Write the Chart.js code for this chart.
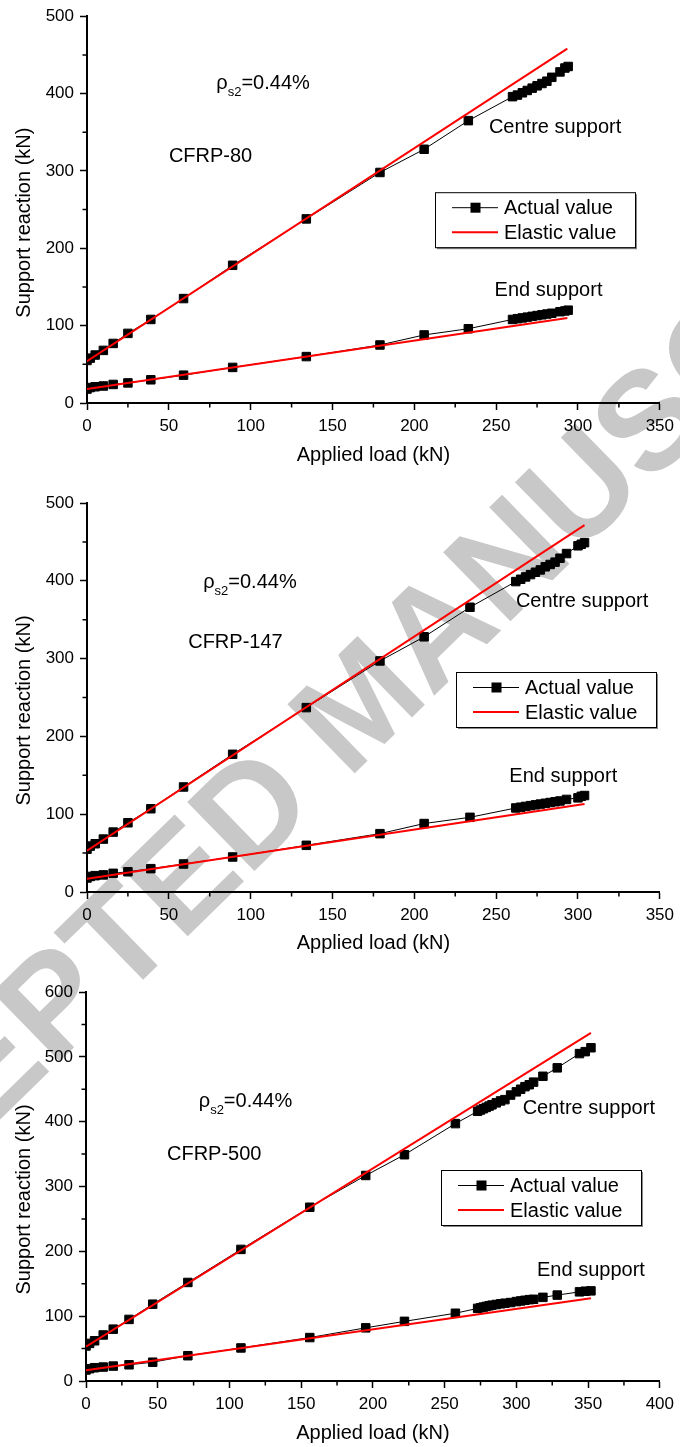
<!DOCTYPE html>
<html>
<head>
<meta charset="utf-8">
<script src="https://cdn.jsdelivr.net/npm/chart.js@4.4.1/dist/chart.umd.min.js"></script>
<style>
html,body{margin:0;padding:0;background:#fff;}
body{width:680px;height:1447px;position:relative;overflow:hidden;}
#wm{position:absolute;left:359px;top:702px;transform:translate(-50%,-50%) rotate(-44.3deg);font:bold 140px "Liberation Sans",Arial,sans-serif;line-height:1;color:#c8c8c8;white-space:nowrap;}
canvas{position:absolute;left:0;}
</style>
</head>
<body>
<div id="wm">ACCEPTED MANUSCRIPT</div>
<canvas id="c1" width="680" height="480" style="top:0px"></canvas>
<canvas id="c2" width="680" height="480" style="top:480px"></canvas>
<canvas id="c3" width="680" height="487" style="top:960px"></canvas>
<script>
// ---------- DATA ----------
// CFRP-80
const c80Load   = [0, 2, 5, 10, 16, 25, 39, 59, 89, 134, 179, 206, 233, 260, 263, 266, 269, 272, 275, 278, 281, 284, 289, 292, 294];
const c80Centre = [55, 58, 62, 68, 77, 90, 108, 135, 178, 238, 298, 328, 365, 396, 398, 401, 404, 407, 410, 413, 416, 421, 428, 433, 435];
const c80End    = [18, 20, 21, 22, 24, 26, 30, 36, 46, 60, 75, 88, 96, 108, 109, 110, 111, 112, 113, 114, 115, 116, 118, 119, 120];
const c80ElasticLoad   = [0, 293.5];
const c80ElasticCentre = [54, 458];
const c80ElasticEnd    = [18, 110];

// CFRP-147
const c147Load   = [0, 2, 5, 10, 16, 25, 39, 59, 89, 134, 179, 206, 234, 262, 265, 268, 271, 274, 277, 280, 283, 286, 289, 293, 300, 302, 304];
const c147Centre = [55, 59, 62, 68, 77, 89, 107, 135, 177, 237, 297, 328, 366, 399, 402, 405, 408, 411, 414, 418, 421, 424, 429, 435, 445, 447, 449];
const c147End    = [18, 20, 21, 22, 24, 26, 30, 36, 45, 60, 75, 88, 96, 108, 109, 110, 111, 112, 113, 114, 115, 116, 117, 119, 121, 123, 124];
const c147ElasticLoad   = [0, 304];
const c147ElasticCentre = [53, 471.5];
const c147ElasticEnd    = [17, 113];

// CFRP-500
const c500Load   = [0, 2.5, 6, 12, 19, 30, 46.5, 71, 108, 156, 195, 222, 257.5, 273, 275, 277, 279, 281, 283, 286, 289, 292, 296, 300, 303, 306, 309, 312, 318.5, 328.5, 344, 348, 352];
const c500Centre = [54, 58, 62, 71, 80, 95, 118.5, 152, 203, 268, 317, 349, 397, 416, 418, 420, 422, 424, 426, 429, 432, 434, 441, 446, 450, 454, 457, 461, 470, 483, 505, 508, 514];
const c500End    = [17, 19, 20.5, 21.5, 23, 25, 29, 39, 51, 67, 82, 92, 104.5, 112, 113, 114, 115, 116, 117, 118, 119, 120, 121, 122.5, 123.5, 124.5, 125.5, 126, 129, 132.5, 137.5, 138.5, 139];
const c500ElasticLoad   = [0, 352];
const c500ElasticCentre = [53, 537];
const c500ElasticEnd    = [16.5, 127.6];

const xTitle = 'Applied load (kN)';
const yTitle = 'Support reaction (kN)';
const legendLabels = ['Actual value', 'Elastic value'];
const rhoText = ['\u03c1', 's2', '=0.44%'];
const centreLabel = 'Centre support';
const endLabel = 'End support';

// ---------- RENDER ----------
const FONT = "'Liberation Sans', Arial, Helvetica, sans-serif";
Chart.defaults.font.family = FONT;
Chart.defaults.color = '#000';

function pts(xs, ys){ return xs.map((x,i)=>({x:x, y:ys[i]})); }

const annotPlugin = {
  id:'annot',
  afterDraw(chart){
    const o = chart.options.plugins.annot;
    const ctx = chart.ctx, xs = chart.scales.x, ys = chart.scales.y, ca = chart.chartArea;
    ctx.save();
    // minor ticks (values from the scales)
    ctx.strokeStyle = '#000'; ctx.lineWidth = 1.5;
    ctx.beginPath();
    xs.ticks.forEach(t=>{ if (t.value % 50 !== 0){ const px = xs.getPixelForValue(t.value); ctx.moveTo(px, ca.bottom); ctx.lineTo(px, ca.bottom + 4.5); } });
    ys.ticks.forEach(t=>{ if (t.value % 100 !== 0){ const py = ys.getPixelForValue(t.value); ctx.moveTo(ca.left, py); ctx.lineTo(ca.left - 4.5, py); } });
    ctx.stroke();

    ctx.fillStyle = '#000';
    // y axis title
    ctx.save();
    ctx.translate(24, (ca.top+ca.bottom)/2 + 13);
    ctx.rotate(-Math.PI/2);
    ctx.font = '20px ' + FONT;
    ctx.textAlign = 'center'; ctx.textBaseline = 'middle';
    ctx.fillText(yTitle, 0, 0);
    ctx.restore();
    // rho label
    let rx = xs.getPixelForValue(o.rho[0]), ry = ys.getPixelForValue(o.rho[1]);
    ctx.textAlign = 'left'; ctx.textBaseline = 'alphabetic';
    ctx.font = '20px ' + FONT;
    ctx.fillText(rhoText[0], rx, ry);
    rx += ctx.measureText(rhoText[0]).width;
    ctx.font = '13px ' + FONT;
    ctx.fillText(rhoText[1], rx, ry + 7);
    rx += ctx.measureText(rhoText[1]).width;
    ctx.font = '20px ' + FONT;
    ctx.fillText(rhoText[2], rx, ry);
    // centred labels
    ctx.textAlign = 'center'; ctx.textBaseline = 'middle';
    ctx.font = '20px ' + FONT;
    [[o.name, o.nameAt],[centreLabel, o.centreAt],[endLabel, o.endAt]].forEach(([t,p])=>{
      ctx.fillText(t, xs.getPixelForValue(p[0]), ys.getPixelForValue(p[1]));
    });
    // legend
    const bx = ca.left + o.legend[0], by = ca.top + o.legend[1], bw = 200, bh = 55;
    ctx.fillStyle = '#888';
    ctx.fillRect(bx+2, by+bh, bw, 2);
    ctx.fillRect(bx+bw, by+2, 2, bh);
    ctx.strokeStyle = '#000'; ctx.lineWidth = 1;
    ctx.strokeRect(bx+0.5, by+0.5, bw, bh);
    const y1 = by + 15, y2 = by + 40;
    ctx.beginPath(); ctx.moveTo(bx+17, y1+0.5); ctx.lineTo(bx+63, y1+0.5); ctx.stroke();
    ctx.fillStyle = '#000'; ctx.fillRect(bx+35.5, y1-4.5, 10, 10);
    ctx.strokeStyle = '#ff0000'; ctx.lineWidth = 2;
    ctx.beginPath(); ctx.moveTo(bx+17, y2); ctx.lineTo(bx+63, y2); ctx.stroke();
    ctx.fillStyle = '#000';
    ctx.textAlign = 'left'; ctx.textBaseline = 'middle';
    ctx.fillText(legendLabels[0], bx+69, y1+1);
    ctx.fillText(legendLabels[1], bx+69, y2+1);
    ctx.restore();
  }
};

function makeChart(id, c){
  const majorX = v => v % 50 === 0;
  const majorY = v => v % 100 === 0;
  new Chart(document.getElementById(id), {
    type:'line',
    data:{datasets:[
      {label:legendLabels[1], data:pts(c.eLoad, c.eCentre), borderColor:'#ff0000', borderWidth:2, pointRadius:0, order:0},
      {label:legendLabels[1], data:pts(c.eLoad, c.eEnd), borderColor:'#ff0000', borderWidth:2, pointRadius:0, order:0},
      {label:legendLabels[0], data:pts(c.load, c.centre), borderColor:'#000', borderWidth:1, pointStyle:'rect', pointRadius:6, pointBorderWidth:1, pointBackgroundColor:'#000', pointBorderColor:'#000', order:1},
      {label:legendLabels[0], data:pts(c.load, c.end), borderColor:'#000', borderWidth:1, pointStyle:'rect', pointRadius:6, pointBorderWidth:1, pointBackgroundColor:'#000', pointBorderColor:'#000', order:1}
    ]},
    options:{
      responsive:false, animation:false, devicePixelRatio:1,
      layout:{padding:{left:0, top:c.top, right:18, bottom:0}},
      plugins:{legend:{display:false}, tooltip:{enabled:false}, annot:c.annot},
      elements:{line:{tension:0}},
      scales:{
        x:{type:'linear', min:0, max:c.xMax,
           afterFit:s=>{ s.height = c.xH; },
           grid:{drawOnChartArea:false, drawTicks:true, tickLength:7, tickWidth:1.5,
                 tickColor:ctx=> (ctx.tick && majorX(ctx.tick.value)) ? '#000' : 'rgba(0,0,0,0)'},
           border:{display:true, color:'#000', width:2},
           ticks:{stepSize:25, autoSkip:false, maxRotation:0, padding:6, font:{size:17},
                  callback:v=> (majorX(v) ? String(v) : '')},
           title:{display:true, text:xTitle, font:{size:20}, padding:{top:0, bottom:c.xPad}}},
        y:{type:'linear', min:0, max:c.yMax,
           afterFit:s=>{ s.width = c.yW; },
           grid:{drawOnChartArea:false, drawTicks:true, tickLength:7, tickWidth:1.5,
                 tickColor:ctx=> (ctx.tick && majorY(ctx.tick.value)) ? '#000' : 'rgba(0,0,0,0)'},
           border:{display:true, color:'#000', width:2},
           ticks:{stepSize:50, autoSkip:false, padding:6, font:{size:17},
                  callback:v=> (majorY(v) ? String(v) : '')},
           title:{display:false}}
      }
    },
    plugins:[annotPlugin]
  });
}

makeChart('c1', {load:c80Load, centre:c80Centre, end:c80End, eLoad:c80ElasticLoad, eCentre:c80ElasticCentre, eEnd:c80ElasticEnd,
  xMax:350, yMax:500, top:14, xH:77, xPad:13, yW:87,
  annot:{rho:[79, 406], name:'CFRP-80', nameAt:[75.5, 319], centreAt:[286, 356], endAt:[282, 145], legend:[348, 176]}});
makeChart('c2', {load:c147Load, centre:c147Centre, end:c147End, eLoad:c147ElasticLoad, eCentre:c147ElasticCentre, eEnd:c147ElasticEnd,
  xMax:350, yMax:500, top:23, xH:68, xPad:5, yW:87,
  annot:{rho:[71, 391], name:'CFRP-147', nameAt:[90.7, 321], centreAt:[302.5, 373], endAt:[291, 149], legend:[369, 169]}});
makeChart('c3', {load:c500Load, centre:c500Centre, end:c500End, eLoad:c500ElasticLoad, eCentre:c500ElasticCentre, eEnd:c500ElasticEnd,
  xMax:400, yMax:600, top:32, xH:66, xPad:2, yW:86,
  annot:{rho:[78.6, 423], name:'CFRP-500', nameAt:[89.4, 349], centreAt:[350.5, 420], endAt:[352, 170], legend:[355, 178]}});
</script>
</body>
</html>
